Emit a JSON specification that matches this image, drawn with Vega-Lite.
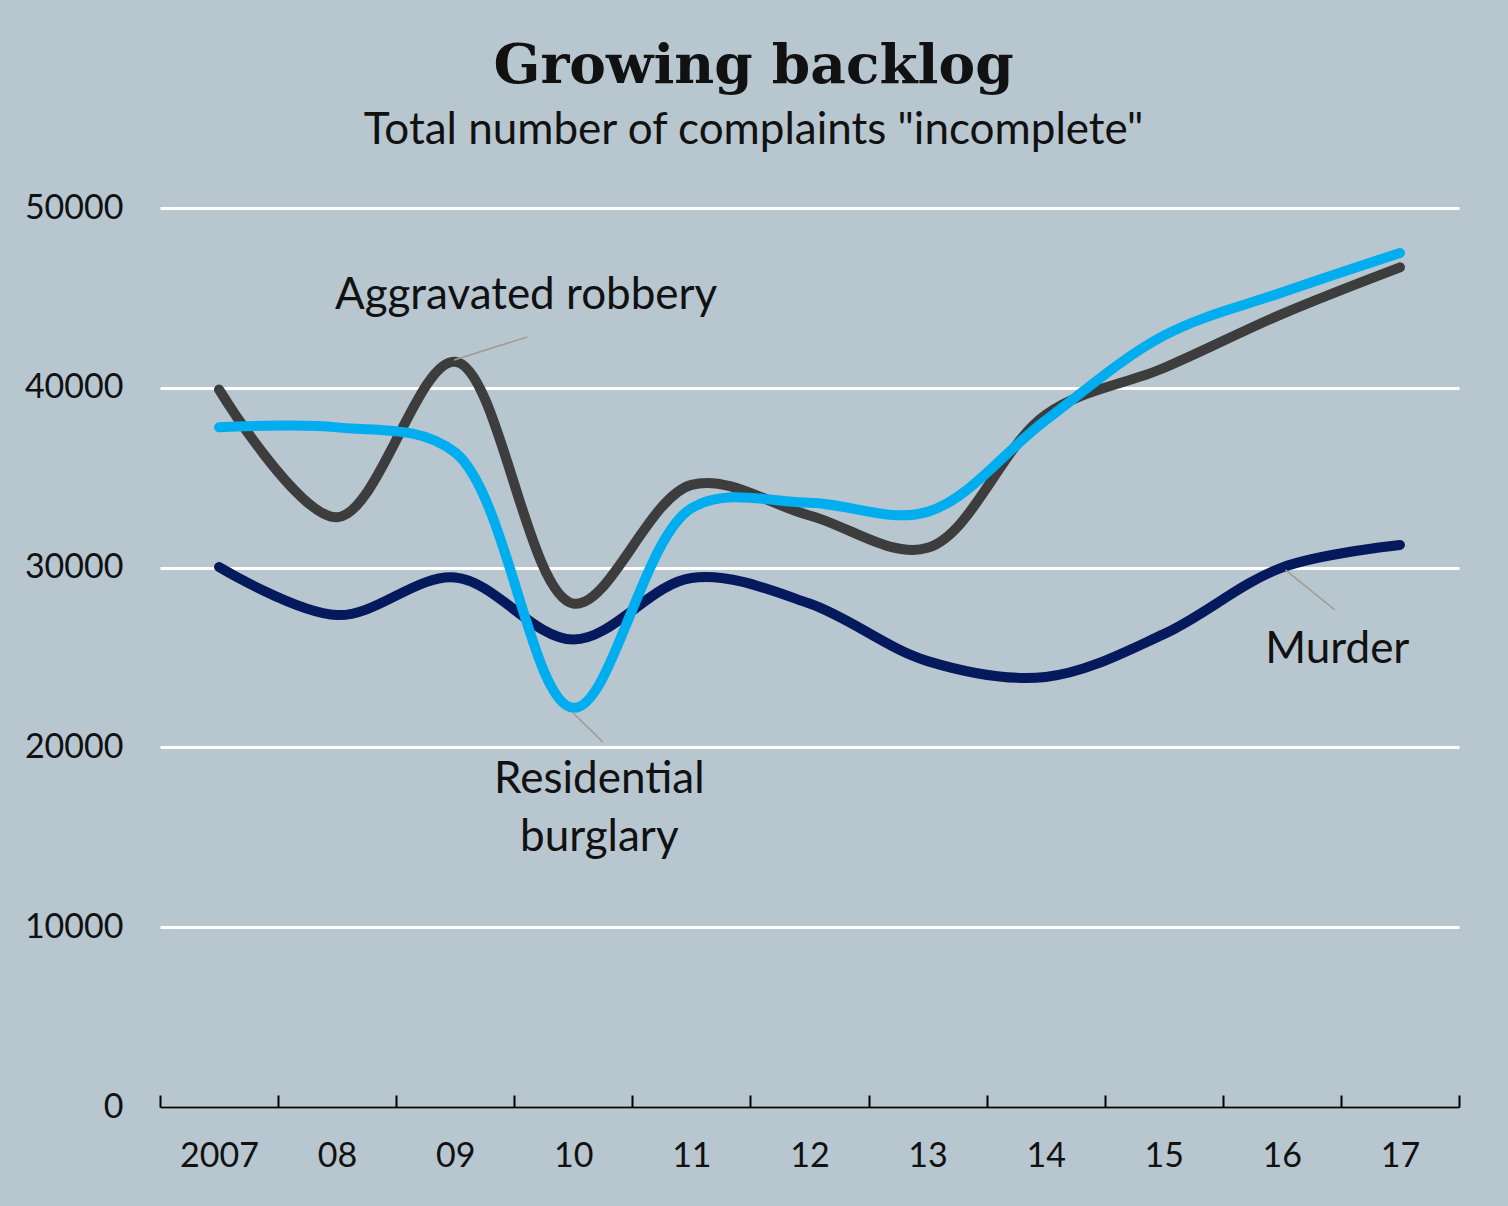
{
  "$schema": "https://vega.github.io/schema/vega-lite/v6.json",
  "width": 1299,
  "height": 899,
  "autosize": {"type": "none"},
  "padding": {"left": 160, "top": 208, "right": 49, "bottom": 99},
  "background": "#b7c6cf",
  "config": {"view": {"stroke": null}},
  "title": {
    "text": "Growing backlog",
    "subtitle": "Total number of complaints \"incomplete\"",
    "font": "DejaVu Serif",
    "fontSize": 55,
    "fontWeight": "bold",
    "color": "#111111",
    "subtitleFont": "Lato",
    "subtitleFontSize": 44,
    "subtitleColor": "#111111",
    "subtitlePadding": 14,
    "anchor": "middle",
    "offset": 37,
    "dx": -56
  },
  "datasets": {
    "crimes": [
      {"year": 2007, "crime": "Murder", "value": 30030},
      {"year": 2008, "crime": "Murder", "value": 27360},
      {"year": 2009, "crime": "Murder", "value": 29450},
      {"year": 2010, "crime": "Murder", "value": 26000},
      {"year": 2011, "crime": "Murder", "value": 29420},
      {"year": 2012, "crime": "Murder", "value": 28000},
      {"year": 2013, "crime": "Murder", "value": 24800},
      {"year": 2014, "crime": "Murder", "value": 23920},
      {"year": 2015, "crime": "Murder", "value": 26300},
      {"year": 2016, "crime": "Murder", "value": 30000},
      {"year": 2017, "crime": "Murder", "value": 31260},
      {"year": 2007, "crime": "Aggravated robbery", "value": 39900},
      {"year": 2008, "crime": "Aggravated robbery", "value": 32800},
      {"year": 2009, "crime": "Aggravated robbery", "value": 41450},
      {"year": 2010, "crime": "Aggravated robbery", "value": 28000},
      {"year": 2011, "crime": "Aggravated robbery", "value": 34600},
      {"year": 2012, "crime": "Aggravated robbery", "value": 32900},
      {"year": 2013, "crime": "Aggravated robbery", "value": 31100},
      {"year": 2014, "crime": "Aggravated robbery", "value": 38500},
      {"year": 2015, "crime": "Aggravated robbery", "value": 41100},
      {"year": 2016, "crime": "Aggravated robbery", "value": 44100},
      {"year": 2017, "crime": "Aggravated robbery", "value": 46700},
      {"year": 2007, "crime": "Residential burglary", "value": 37800},
      {"year": 2008, "crime": "Residential burglary", "value": 37800},
      {"year": 2009, "crime": "Residential burglary", "value": 36400},
      {"year": 2010, "crime": "Residential burglary", "value": 22200},
      {"year": 2011, "crime": "Residential burglary", "value": 33300},
      {"year": 2012, "crime": "Residential burglary", "value": 33600},
      {"year": 2013, "crime": "Residential burglary", "value": 33100},
      {"year": 2014, "crime": "Residential burglary", "value": 38200},
      {"year": 2015, "crime": "Residential burglary", "value": 42900},
      {"year": 2016, "crime": "Residential burglary", "value": 45300},
      {"year": 2017, "crime": "Residential burglary", "value": 47500}
    ],
    "notes": [
      {"year": 2009.6, "value": 45100, "label": "Aggravated robbery"},
      {"year": 2010.22, "value": 18190, "label": "Residential\nburglary"},
      {"year": 2016.47, "value": 25420, "label": "Murder"}
    ],
    "leaders": [
      {"year": 2008.99, "value": 41550, "year2": 2009.61, "value2": 42830},
      {"year": 2009.99, "value": 21970, "year2": 2010.25, "value2": 20300},
      {"year": 2016.03, "value": 29870, "year2": 2016.45, "value2": 27640}
    ]
  },
  "encoding": {
    "x": {
      "field": "year",
      "type": "quantitative",
      "scale": {"domain": [2006.5, 2017.5], "nice": false, "zero": false},
      "axis": {
        "title": null,
        "orient": "bottom",
        "values": [2006.5, 2007.5, 2008.5, 2009.5, 2010.5, 2011.5, 2012.5, 2013.5, 2014.5, 2015.5, 2016.5, 2017.5],
        "labelExpr": "datum.value == 2006.5 ? '2007' : (datum.value == 2017.5 ? '' : slice(toString(datum.value + 0.5), 2, 4))",
        "labelOffset": 59,
        "labelFlush": false,
        "labelOverlap": false,
        "labelAngle": 0,
        "labelFont": "Lato",
        "labelFontSize": 34,
        "labelColor": "#111111",
        "labelPadding": 44,
        "domainColor": "#000000",
        "domainWidth": 2,
        "tickColor": "#000000",
        "tickWidth": 2,
        "tickSize": -12,
        "grid": false
      }
    },
    "y": {
      "field": "value",
      "type": "quantitative",
      "scale": {"domain": [0, 50000], "nice": false},
      "axis": {
        "title": null,
        "values": [0, 10000, 20000, 30000, 40000, 50000],
        "format": "d",
        "grid": true,
        "gridColor": "#ffffff",
        "gridWidth": 3,
        "domain": false,
        "ticks": false,
        "tickSize": 0,
        "labelPadding": 37,
        "labelFont": "Lato",
        "labelFontSize": 34,
        "labelColor": "#111111"
      }
    }
  },
  "layer": [
    {
      "data": {"name": "crimes"},
      "mark": {"type": "line", "interpolate": "catmull-rom", "strokeWidth": 10, "strokeCap": "round"},
      "encoding": {
        "color": {
          "field": "crime",
          "type": "nominal",
          "scale": {
            "domain": ["Murder", "Aggravated robbery", "Residential burglary"],
            "range": ["#041a5c", "#3d3d3d", "#00aeef"]
          },
          "legend": null
        }
      }
    },
    {
      "data": {"name": "leaders"},
      "mark": {"type": "rule", "color": "#a09a96", "strokeWidth": 1.5},
      "encoding": {
        "x2": {"field": "year2"},
        "y2": {"field": "value2"}
      }
    },
    {
      "data": {"name": "notes"},
      "mark": {"type": "text", "font": "Lato", "fontSize": 44, "color": "#111111", "align": "center", "baseline": "middle", "lineBreak": "\n", "lineHeight": 58},
      "encoding": {
        "text": {"field": "label"}
      }
    }
  ]
}
